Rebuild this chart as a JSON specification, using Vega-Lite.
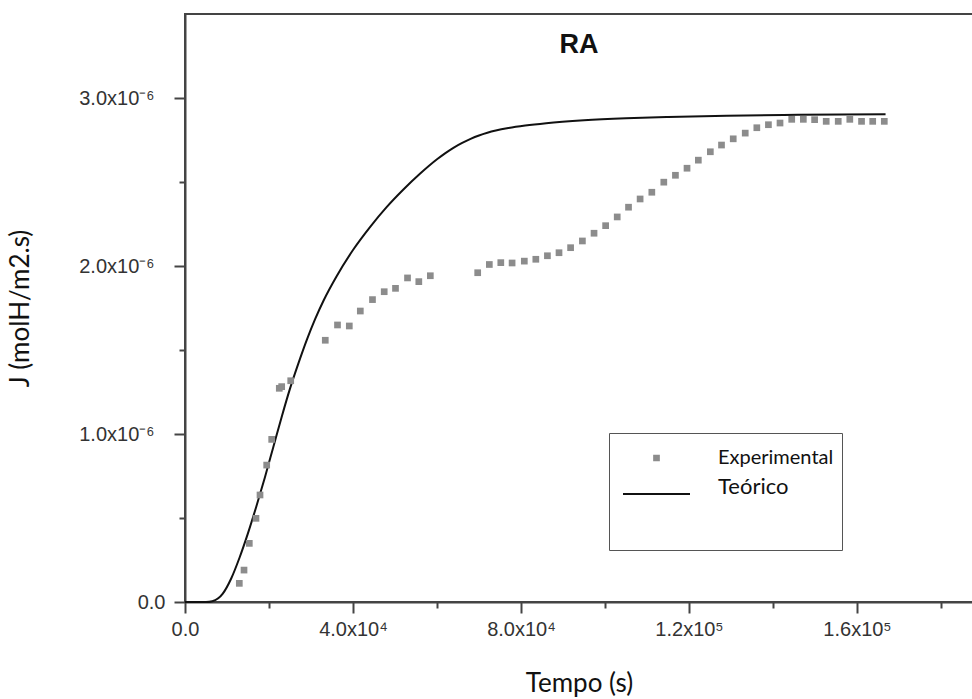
{
  "$schema": "https://vega.github.io/schema/vega-lite/v6.json",
  "width": 788,
  "height": 588,
  "autosize": {"type": "none"},
  "padding": {"left": 185, "top": 14, "right": 0, "bottom": 97},
  "background": "white",
  "config": {
    "view": {"stroke": "#444", "strokeWidth": 2},
    "axis": {
      "grid": false,
      "domainColor": "#444",
      "domainWidth": 2,
      "tickColor": "#444",
      "tickWidth": 2,
      "labelFont": "Liberation Sans",
      "labelFontSize": 20,
      "labelColor": "#333",
      "titleFont": "Lato",
      "titleFontWeight": "normal",
      "titleColor": "#111",
      "titleFontSize": 26
    },
    "legend": {
      "orient": "none",
      "legendX": 424,
      "legendY": 419,
      "titleOrient": "bottom",
      "titleFont": "Lato",
      "titleFontSize": 20,
      "titlePadding": 11,
      "direction": "vertical",
      "symbolSize": 4489,
      "symbolStrokeWidth": 0,
      "clipHeight": 34,
      "rowPadding": 1,
      "padding": 8,
      "strokeColor": "#555",
      "fillColor": "white",
      "symbolOffset": 6,
      "labelOffset": 28,
      "labelFont": "Lato",
      "labelColor": "#111",
      "labelLimit": 300
    }
  },
  "title": {
    "text": "RA",
    "orient": "top",
    "anchor": "middle",
    "frame": "group",
    "offset": -66,
    "baseline": "alphabetic",
    "font": "Liberation Sans",
    "fontSize": 27,
    "fontWeight": "bold",
    "color": "#111"
  },
  "datasets": {
    "teorico": [
      {"t": 0, "J": 0},
      {"t": 5000, "J": 0},
      {"t": 6500, "J": 0.005e-6},
      {"t": 9000, "J": 0.05e-6},
      {"t": 11000, "J": 0.14e-6},
      {"t": 13000, "J": 0.265e-6},
      {"t": 15000, "J": 0.41e-6},
      {"t": 17000, "J": 0.57e-6},
      {"t": 19000, "J": 0.74e-6},
      {"t": 21000, "J": 0.92e-6},
      {"t": 23000, "J": 1.1e-6},
      {"t": 25000, "J": 1.27e-6},
      {"t": 27000, "J": 1.42e-6},
      {"t": 29000, "J": 1.56e-6},
      {"t": 31000, "J": 1.685e-6},
      {"t": 33000, "J": 1.795e-6},
      {"t": 36000, "J": 1.935e-6},
      {"t": 40000, "J": 2.095e-6},
      {"t": 44000, "J": 2.23e-6},
      {"t": 48000, "J": 2.35e-6},
      {"t": 52000, "J": 2.455e-6},
      {"t": 56000, "J": 2.55e-6},
      {"t": 60000, "J": 2.635e-6},
      {"t": 62000, "J": 2.672e-6},
      {"t": 64000, "J": 2.705e-6},
      {"t": 66000, "J": 2.733e-6},
      {"t": 68000, "J": 2.757e-6},
      {"t": 70000, "J": 2.777e-6},
      {"t": 72000, "J": 2.793e-6},
      {"t": 74000, "J": 2.806e-6},
      {"t": 77000, "J": 2.821e-6},
      {"t": 81000, "J": 2.836e-6},
      {"t": 86000, "J": 2.85e-6},
      {"t": 95000, "J": 2.867e-6},
      {"t": 105000, "J": 2.879e-6},
      {"t": 115000, "J": 2.887e-6},
      {"t": 129000, "J": 2.895e-6},
      {"t": 146000, "J": 2.9e-6},
      {"t": 166800, "J": 2.904e-6}
    ],
    "experimental": [
      {"t": 12930, "J": 0.111e-6, "series": "Experimental"},
      {"t": 14050, "J": 0.19e-6, "series": "Experimental"},
      {"t": 15310, "J": 0.349e-6, "series": "Experimental"},
      {"t": 16900, "J": 0.498e-6, "series": "Experimental"},
      {"t": 17860, "J": 0.637e-6, "series": "Experimental"},
      {"t": 19450, "J": 0.815e-6, "series": "Experimental"},
      {"t": 20640, "J": 0.968e-6, "series": "Experimental"},
      {"t": 22450, "J": 1.272e-6, "series": "Experimental"},
      {"t": 23020, "J": 1.282e-6, "series": "Experimental"},
      {"t": 25170, "J": 1.317e-6, "series": "Experimental"},
      {"t": 33400, "J": 1.558e-6, "series": "Experimental"},
      {"t": 36310, "J": 1.649e-6, "series": "Experimental"},
      {"t": 39120, "J": 1.643e-6, "series": "Experimental"},
      {"t": 41740, "J": 1.732e-6, "series": "Experimental"},
      {"t": 44640, "J": 1.8e-6, "series": "Experimental"},
      {"t": 47430, "J": 1.847e-6, "series": "Experimental"},
      {"t": 50120, "J": 1.867e-6, "series": "Experimental"},
      {"t": 52980, "J": 1.929e-6, "series": "Experimental"},
      {"t": 55670, "J": 1.907e-6, "series": "Experimental"},
      {"t": 58410, "J": 1.942e-6, "series": "Experimental"},
      {"t": 69690, "J": 1.96e-6, "series": "Experimental"},
      {"t": 72460, "J": 2.009e-6, "series": "Experimental"},
      {"t": 75190, "J": 2.02e-6, "series": "Experimental"},
      {"t": 77880, "J": 2.018e-6, "series": "Experimental"},
      {"t": 80790, "J": 2.029e-6, "series": "Experimental"},
      {"t": 83530, "J": 2.04e-6, "series": "Experimental"},
      {"t": 86290, "J": 2.061e-6, "series": "Experimental"},
      {"t": 89050, "J": 2.079e-6, "series": "Experimental"},
      {"t": 91810, "J": 2.109e-6, "series": "Experimental"},
      {"t": 94620, "J": 2.149e-6, "series": "Experimental"},
      {"t": 97390, "J": 2.195e-6, "series": "Experimental"},
      {"t": 100150, "J": 2.24e-6, "series": "Experimental"},
      {"t": 102910, "J": 2.292e-6, "series": "Experimental"},
      {"t": 105600, "J": 2.35e-6, "series": "Experimental"},
      {"t": 108360, "J": 2.399e-6, "series": "Experimental"},
      {"t": 111150, "J": 2.439e-6, "series": "Experimental"},
      {"t": 114000, "J": 2.499e-6, "series": "Experimental"},
      {"t": 116770, "J": 2.54e-6, "series": "Experimental"},
      {"t": 119530, "J": 2.582e-6, "series": "Experimental"},
      {"t": 122220, "J": 2.63e-6, "series": "Experimental"},
      {"t": 125080, "J": 2.68e-6, "series": "Experimental"},
      {"t": 127740, "J": 2.72e-6, "series": "Experimental"},
      {"t": 130530, "J": 2.757e-6, "series": "Experimental"},
      {"t": 133390, "J": 2.791e-6, "series": "Experimental"},
      {"t": 136150, "J": 2.823e-6, "series": "Experimental"},
      {"t": 138910, "J": 2.841e-6, "series": "Experimental"},
      {"t": 141670, "J": 2.851e-6, "series": "Experimental"},
      {"t": 144460, "J": 2.873e-6, "series": "Experimental"},
      {"t": 147220, "J": 2.873e-6, "series": "Experimental"},
      {"t": 149910, "J": 2.871e-6, "series": "Experimental"},
      {"t": 152670, "J": 2.861e-6, "series": "Experimental"},
      {"t": 155530, "J": 2.861e-6, "series": "Experimental"},
      {"t": 158290, "J": 2.873e-6, "series": "Experimental"},
      {"t": 161080, "J": 2.861e-6, "series": "Experimental"},
      {"t": 163740, "J": 2.861e-6, "series": "Experimental"},
      {"t": 166500, "J": 2.861e-6, "series": "Experimental"}
    ]
  },
  "encoding": {
    "x": {
      "field": "t",
      "type": "quantitative",
      "scale": {"domain": [0, 187620], "nice": false, "zero": false},
      "axis": {
        "title": "Tempo (s)",
        "values": [0, 20000, 40000, 60000, 80000, 100000, 120000, 140000, 160000, 180000],
        "labelExpr": "datum.value === 0 ? '0.0' : (datum.value % 40000 !== 0 ? '' : (datum.value < 100000 ? format(datum.value / 10000, '.1f') + 'x10⁴' : format(datum.value / 100000, '.1f') + 'x10⁵'))",
        "tickSize": {"condition": {"test": "datum.value % 40000 === 0", "value": 11}, "value": 6},
        "labelPadding": 6,
        "labelFlush": false,
        "labelOverlap": false,
        "labelBound": false,
        "titleY": 89,
        "titleBaseline": "alphabetic"
      }
    },
    "y": {
      "field": "J",
      "type": "quantitative",
      "scale": {"domain": [0, 3.5e-6], "nice": false},
      "axis": {
        "title": "J (molH/m2.s)",
        "values": [0, 0.5e-6, 1e-6, 1.5e-6, 2e-6, 2.5e-6, 3e-6],
        "labelExpr": "datum.value === 0 ? '0.0' : (round(datum.value * 2e6) % 2 === 1 ? '' : format(datum.value * 1e6, '.1f') + 'x10⁻⁶')",
        "tickSize": {"condition": {"test": "round(datum.value * 2e6) % 2 === 0", "value": 11}, "value": 6},
        "labelPadding": {"condition": {"test": "datum.value === 0", "value": 9}, "value": 20},
        "labelOverlap": false,
        "labelBound": false,
        "labelFlush": false,
        "titleX": -165,
        "titleY": 294,
        "titleAngle": 270,
        "titleAlign": "center",
        "titleBaseline": "middle"
      }
    }
  },
  "layer": [
    {
      "data": {"name": "teorico"},
      "mark": {"type": "line", "color": "#111", "strokeWidth": 2, "interpolate": "monotone"}
    },
    {
      "data": {"name": "experimental"},
      "mark": {"type": "point", "filled": true, "opacity": 1, "size": 4489, "strokeWidth": 0},
      "encoding": {
        "color": {
          "field": "series",
          "type": "nominal",
          "scale": {"domain": ["Experimental", "Teórico"], "range": ["#8c8c8c", "#111111"]},
          "legend": {
            "title": " ",
            "labelFontSize": {"expr": "datum.value === 'Teórico' ? 22 : 20"},
            "labelBaseline": {"expr": "datum.value === 'Teórico' ? 'alphabetic' : 'middle'"}
          }
        },
        "shape": {
          "field": "series",
          "type": "nominal",
          "scale": {
            "domain": ["Experimental", "Teórico"],
            "range": ["M-0.1,-0.1H0.1V0.1H-0.1Z", "M-1,-0.03H1V0.03H-1Z"]
          },
          "legend": {
            "title": " ",
            "labelFontSize": {"expr": "datum.value === 'Teórico' ? 22 : 20"},
            "labelBaseline": {"expr": "datum.value === 'Teórico' ? 'alphabetic' : 'middle'"}
          }
        }
      }
    }
  ]
}
